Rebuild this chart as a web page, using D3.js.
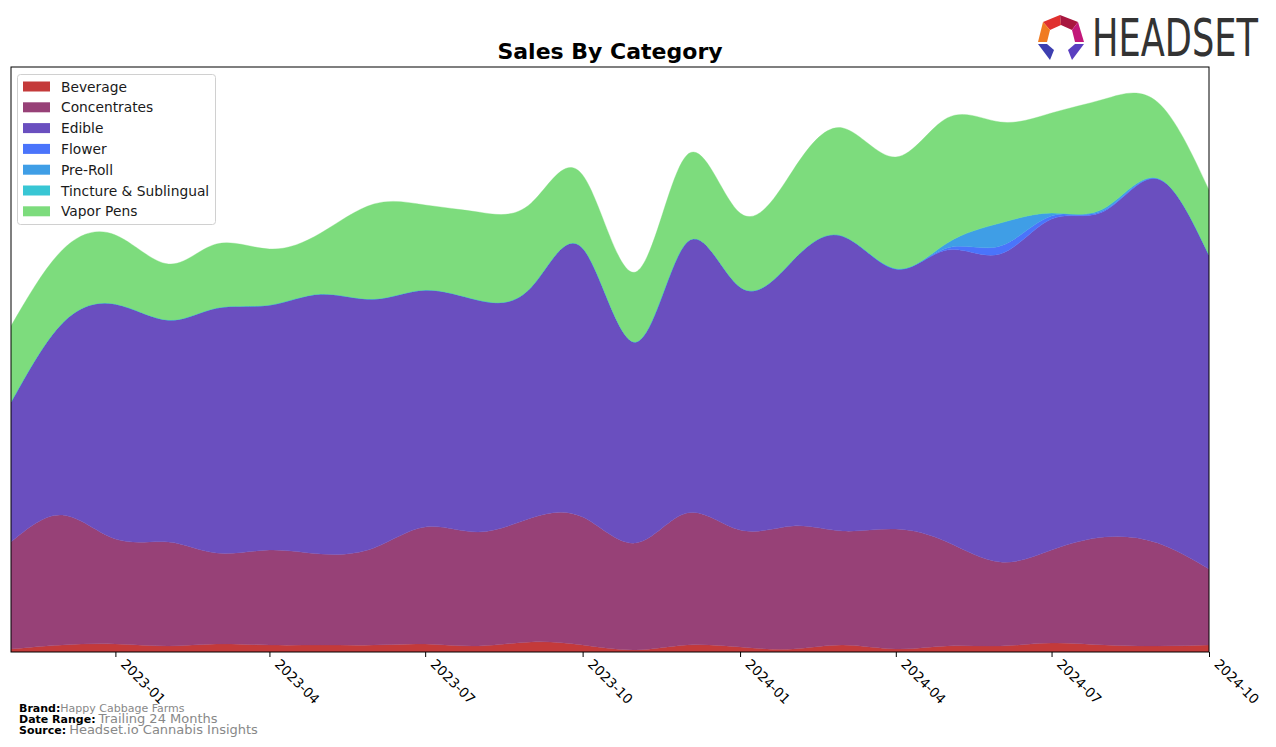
<!DOCTYPE html>
<html>
<head>
<meta charset="utf-8">
<script src="https://cdn.jsdelivr.net/npm/d3@7/dist/d3.min.js"></script>
<style>
  html, body { margin: 0; padding: 0; background: #fff; }
  svg { display: block; }
</style>
</head>
<body>
<svg id="chart" width="1276" height="747"></svg>
<script>
// ---- Data (monthly, arbitrary sales units) ----
const months = ["2022-11","2022-12","2023-01","2023-02","2023-03","2023-04","2023-05","2023-06",
  "2023-07","2023-08","2023-09","2023-10","2023-11","2023-12","2024-01","2024-02","2024-03",
  "2024-04","2024-05","2024-06","2024-07","2024-08","2024-09","2024-10"];
const categories = ["Beverage","Concentrates","Edible","Flower","Pre-Roll","Tincture & Sublingual","Vapor Pens"];
const beverage     = [3, 7, 8, 6, 8, 7, 7, 7, 8, 6, 10, 7, 2, 7, 5, 3, 7, 3, 6, 6, 9, 7, 6, 7];
const concentrates = [107,130,105,104,91,95,91,97,117,114,124,128,107,132,117,123,114,120,104,84,93,108,103,76];
const edible       = [140,192,235,222,245,245,260,249,237,232,231,269,201,271,243,266,295,260,292,308,331,326,364,314];
const flower       = [0, 0, 0, 0, 0, 0, 0, 0, 0, 0, 0, 0, 0, 0, 0, 0, 0, 0, 2, 8, 3, 1, 0.5, 0];
const preRoll      = [0, 0, 0, 0, 0, 0, 0, 0, 0, 0, 0, 0, 0, 0, 0, 0, 0, 0.5, 5, 23, 3, 2, 0.3, 0];
const tincture     = [0, 0, 0, 0, 0, 0, 0, 0, 0, 0, 0, 0, 0, 0, 0, 0, 0, 0, 0, 0, 0, 0, 0, 0];
const vaporPens    = [76, 73, 69, 56, 64, 56, 61, 95, 85, 88, 84, 73, 70, 87, 74, 90, 108, 111.5, 125, 101, 100, 109, 76, 65];
const tickLabels   = ["2023-01","2023-04","2023-07","2023-10","2024-01","2024-04","2024-07","2024-10"];
const colors = ["#c43a3a","#974177","#6a4fbf","#4a74fb","#3f9ee6","#38c6d4","#7ddc7d"];

const seriesArrays = [beverage, concentrates, edible, flower, preRoll, tincture, vaporPens];
const parse = d3.timeParse("%Y-%m");
const table = months.map((m, i) => {
  const row = { date: parse(m) };
  categories.forEach((c, k) => row[c] = seriesArrays[k][i]);
  return row;
});

// ---- Layout ----
const svg = d3.select("#chart");
const L = 11, R = 1209, T = 67, B = 652;

const x = d3.scaleTime().domain([parse("2022-11"), parse("2024-10")]).range([L, R]);
const y = d3.scaleLinear().domain([0, 585]).range([B, T]);

const stack = d3.stack().keys(categories);
const layers = stack(table);

svg.append("defs").append("clipPath").attr("id", "plotclip")
  .append("rect").attr("x", L).attr("y", T).attr("width", R - L).attr("height", B - T);

const area = d3.area()
  .x(d => x(d.data.date))
  .y0(d => y(d[0]))
  .y1(d => y(d[1]))
  .curve(d3.curveNatural);

svg.append("g").attr("clip-path", "url(#plotclip)")
  .selectAll("path").data(layers).join("path")
  .attr("d", area)
  .attr("fill", (d, i) => colors[i])
  .attr("stroke", (d, i) => colors[i])
  .attr("stroke-width", 0.6)
  .attr("stroke-opacity", 0.6);

// frame
svg.append("rect").attr("x", L).attr("y", T).attr("width", R - L).attr("height", B - T)
  .attr("fill", "none").attr("stroke", "#000").attr("stroke-width", 1);

// x axis
const xAxis = d3.axisBottom(x)
  .tickValues(tickLabels.map(parse))
  .tickFormat(d3.timeFormat("%Y-%m"))
  .tickSize(5).tickSizeOuter(0);
const gx = svg.append("g").attr("transform", `translate(0,${B})`).call(xAxis);
gx.select(".domain").remove();
gx.selectAll(".tick line").attr("stroke", "#000");
gx.selectAll(".tick text")
  .attr("font-family", "DejaVu Sans, sans-serif")
  .attr("font-size", 13.5)
  .attr("fill", "#000")
  .attr("text-anchor", "start")
  .attr("dy", null)
  .attr("y", 0)
  .attr("transform", "translate(4,13) rotate(45)");

// title
svg.append("text").attr("x", (L + R) / 2).attr("y", 59)
  .attr("text-anchor", "middle")
  .attr("font-family", "DejaVu Sans, sans-serif")
  .attr("font-size", 22).attr("font-weight", "bold")
  .text("Sales By Category");

// legend
const lg = svg.append("g");
lg.append("rect").attr("x", 17.5).attr("y", 74.5).attr("width", 198).attr("height", 150)
  .attr("rx", 3).attr("fill", "#fff").attr("fill-opacity", 0.8)
  .attr("stroke", "#d0d0d0").attr("stroke-width", 1);
categories.forEach((c, i) => {
  const yy = 86.5 + i * 20.8;
  lg.append("rect").attr("x", 23).attr("y", yy - 5).attr("width", 27).attr("height", 10)
    .attr("fill", colors[i]);
  lg.append("text").attr("x", 61).attr("y", yy + 5)
    .attr("font-family", "DejaVu Sans, sans-serif").attr("font-size", 13.8)
    .attr("fill", "#1a1a1a").text(c);
});

// footer
const foot = [
  ["Brand:", "Happy Cabbage Farms", 11, 712],
  ["Date Range:", "Trailing 24 Months", 13, 723],
  ["Source:", "Headset.io Cannabis Insights", 13, 734]
];
foot.forEach(([k, v, fs, yy]) => {
  const t = svg.append("text").attr("x", 19).attr("y", yy)
    .attr("font-family", "DejaVu Sans, sans-serif");
  t.append("tspan").attr("font-weight", "bold").attr("font-size", 11).attr("fill", "#000").text(k);
  t.append("tspan").attr("font-size", fs).attr("fill", "#888").attr("dx", k === "Brand:" ? 0 : 3).text(v);
});

// logo
const logo = svg.append("g");
const facets = [
  {pts: [[1043,22],[1060,15],[1061,25],[1050,30]], c: "#e0302f"},
  {pts: [[1060,15],[1078,22],[1072,30],[1061,25]], c: "#a8163f"},
  {pts: [[1078,22],[1084,42],[1075,42],[1072,30]], c: "#c2187a"},
  {pts: [[1043,22],[1050,30],[1047,42],[1038,42]], c: "#f07b22"},
  {pts: [[1038,44],[1047,44],[1054,50],[1050,60]], c: "#3d3fb0"},
  {pts: [[1075,44],[1084,44],[1072,60],[1068,50]], c: "#5a3fc0"}
];
facets.forEach(f => logo.append("polygon")
  .attr("points", f.pts.map(p => p.join(",")).join(" ")).attr("fill", f.c));
logo.append("text").attr("x", 1092).attr("y", 56)
  .attr("font-family", "DejaVu Sans, sans-serif").attr("font-size", 52)
  .attr("fill", "#333").attr("textLength", 166).attr("lengthAdjust", "spacingAndGlyphs")
  .text("HEADSET");
</script>
</body>
</html>
